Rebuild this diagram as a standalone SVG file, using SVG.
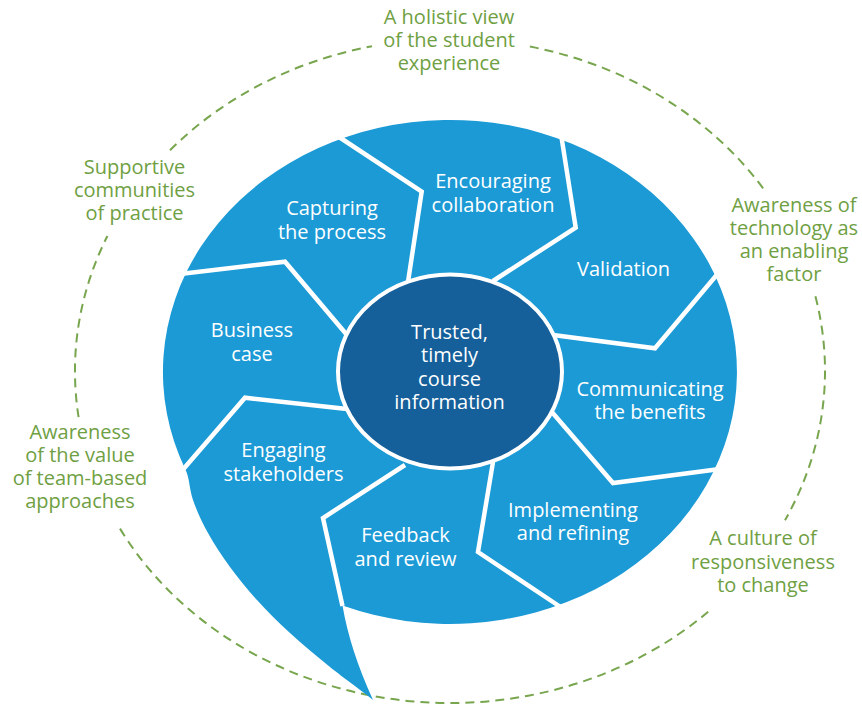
<svg xmlns="http://www.w3.org/2000/svg" width="862" height="704" viewBox="0 0 862 704">
<style>
.ring{fill:none;stroke:#78a64e;stroke-width:2;stroke-dasharray:9 6}
.div{fill:none;stroke:#ffffff;stroke-width:4.5;stroke-linejoin:miter}
.g{font-family:"Open Sans","Noto Sans","Liberation Sans",sans-serif;font-size:20px;fill:#6fa043;text-anchor:middle}
.w{font-family:"Open Sans","Noto Sans","Liberation Sans",sans-serif;font-size:20px;fill:#ffffff;text-anchor:middle}
</style>
<rect width="862" height="704" fill="#ffffff"/>
<g id="outer-ring">
<path class="ring" d="M529.9,46.6 A375,332 0 0 1 764.5,190.2"/>
<path class="ring" d="M815.4,296.3 A375,332 0 0 1 785,520.2"/>
<path class="ring" d="M708.2,611.8 A375,332 0 0 1 117.4,524.3"/>
<path class="ring" d="M78.6,417.2 A375,332 0 0 1 107.4,236"/>
<path class="ring" d="M170,150.2 A375,332 0 0 1 372,46.3"/>
</g>
<g id="wheel">
<path fill="#1b9ad6" d="M185,468.8 A287,252 0 1 1 342.5,605.6 Q350,650 373,700 C365,693 343.8,678.2 330,667 C316.2,655.8 302.2,644.2 290,633 C277.8,621.8 267,611 257,600 C247,589 238.2,578.2 230,567 C221.8,555.8 214.2,544.2 208,533 C201.8,521.8 196.8,511 193,500 C189.2,489 189.6,477 185,468.8 Z"/>
</g>
<g id="dividers">
<polyline class="div" points="336,135 421.7,191.7 408,282"/>
<polyline class="div" points="561,134 575.7,227.7 493,281"/>
<polyline class="div" points="720,271 655,348.3 553,335"/>
<polyline class="div" points="720,469 613,483 551,411"/>
<polyline class="div" points="565,610 478,552 493,462"/>
<polyline class="div" points="342.5,606 323,518 405,465"/>
<polyline class="div" points="180,473 245,397.7 347,409"/>
<polyline class="div" points="180,274 285,261.7 347,335"/>
</g>
<g id="center">
<ellipse cx="450" cy="371.5" rx="112" ry="97" fill="#15609a" stroke="#ffffff" stroke-width="4"/>
<text class="w"><tspan x="449.5" y="339">Trusted,</tspan><tspan x="449.5" y="362">timely</tspan><tspan x="449.5" y="386">course</tspan><tspan x="449.5" y="409">information</tspan></text>
</g>
<g id="capturing"><text class="w"><tspan x="332" y="215">Capturing</tspan><tspan x="332" y="238.5">the process</tspan></text></g>
<g id="encouraging"><text class="w"><tspan x="493" y="188">Encouraging</tspan><tspan x="493" y="212">collaboration</tspan></text></g>
<g id="validation"><text class="w"><tspan x="623.5" y="276">Validation</tspan></text></g>
<g id="communicating"><text class="w"><tspan x="650" y="396">Communicating</tspan><tspan x="650" y="419">the benefits</tspan></text></g>
<g id="implementing"><text class="w"><tspan x="573" y="517">Implementing</tspan><tspan x="573" y="540">and refining</tspan></text></g>
<g id="feedback"><text class="w"><tspan x="405.5" y="542">Feedback</tspan><tspan x="405.5" y="565.5">and review</tspan></text></g>
<g id="engaging"><text class="w"><tspan x="283.5" y="457">Engaging</tspan><tspan x="283.5" y="481">stakeholders</tspan></text></g>
<g id="business"><text class="w"><tspan x="252" y="337">Business</tspan><tspan x="252" y="361">case</tspan></text></g>
<g id="holistic"><text class="g"><tspan x="449" y="24">A holistic view</tspan><tspan x="449" y="47">of the student</tspan><tspan x="449" y="70">experience</tspan></text></g>
<g id="technology"><text class="g"><tspan x="794" y="212">Awareness of</tspan><tspan x="794" y="235">technology as</tspan><tspan x="794" y="258">an enabling</tspan><tspan x="794" y="281">factor</tspan></text></g>
<g id="culture"><text class="g"><tspan x="763" y="545">A culture of</tspan><tspan x="763" y="568.5">responsiveness</tspan><tspan x="763" y="592">to change</tspan></text></g>
<g id="team-based"><text class="g"><tspan x="80" y="438.5">Awareness</tspan><tspan x="80" y="461.5">of the value</tspan><tspan x="80" y="484.5">of team-based</tspan><tspan x="80" y="507.5">approaches</tspan></text></g>
<g id="communities"><text class="g"><tspan x="134.5" y="174">Supportive</tspan><tspan x="134.5" y="197">communities</tspan><tspan x="134.5" y="220">of practice</tspan></text></g>
</svg>
